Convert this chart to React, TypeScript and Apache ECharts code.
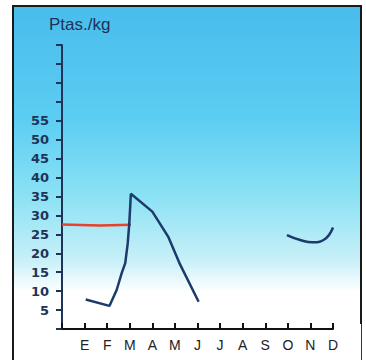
import React, { useEffect, useRef } from "react";
import * as echarts from "echarts";

const monthLabels = ["", "E", "F", "M", "A", "M", "J", "J", "A", "S", "O", "N", "D"];
const yLabeledMin = 5;
const yLabeledMax = 55;
const titleText = "Ptas./kg";

// [month index, Ptas./kg]
const redSeries: [number, number][] = [
  [0, 27.6],
  [1.7, 27.3],
  [3.05, 27.5],
];
const blueSpring: [number, number][] = [
  [1.05, 7.8],
  [2.1, 6.1],
  [2.42, 10.3],
  [2.64, 14.7],
  [2.8, 17.4],
  [2.91, 22.6],
  [2.98, 27.9],
  [3.05, 35.7],
  [4.0, 31.0],
  [4.7, 24.4],
  [5.2, 17.4],
  [6.05, 7.2],
];
const blueAutumn: [number, number][] = [
  [9.96, 24.8],
  [10.55, 23.5],
  [11.1, 22.9],
  [11.58, 23.5],
  [12.0, 26.8],
];

export default function App() {
  const ref = useRef<HTMLDivElement>(null);
  useEffect(() => {
    if (!ref.current) return;
    const chart = echarts.init(ref.current, undefined, { renderer: "svg" });
    const navy = "#1d3358";
    chart.setOption({
      animation: false,
      backgroundColor: "#ffffff",
      graphic: [
        {
          type: "rect",
          z: -10,
          silent: true,
          shape: { x: 13, y: 6, width: 348, height: 318 },
          style: {
            fill: new echarts.graphic.LinearGradient(0, 0, 0, 1, [
              { offset: 0, color: "#48bcec" },
              { offset: 0.35, color: "#5ccdf2" },
              { offset: 0.6, color: "#8ce2f4" },
              { offset: 0.8, color: "#c8f0f8" },
              { offset: 0.9, color: "#ffffff" },
              { offset: 1, color: "#ffffff" },
            ]),
          },
        },
        {
          type: "line",
          silent: true,
          shape: { x1: 12, y1: 6, x2: 362, y2: 6 },
          style: { stroke: "#1a1a1a", lineWidth: 2 },
        },
        {
          type: "line",
          silent: true,
          shape: { x1: 13, y1: 5, x2: 13, y2: 360 },
          style: { stroke: "#1a1a1a", lineWidth: 2 },
        },
        {
          type: "line",
          silent: true,
          shape: { x1: 361, y1: 5, x2: 361, y2: 324 },
          style: { stroke: "#1a1a1a", lineWidth: 2 },
        },
        {
          type: "line",
          silent: true,
          shape: { x1: 361.5, y1: 324, x2: 361.5, y2: 360 },
          style: { stroke: "#333", lineWidth: 1 },
        },
        {
          type: "text",
          left: 49,
          top: 16,
          style: {
            text: titleText,
            fill: navy,
            font: "17px 'Liberation Sans', sans-serif",
          },
        },
      ],
      grid: { left: 62, right: 33, top: 45, bottom: 31 },
      xAxis: {
        type: "value",
        min: 0,
        max: 12,
        interval: 1,
        axisLine: { show: true, lineStyle: { color: "#111", width: 2 } },
        axisTick: { show: true, inside: true, length: 6, lineStyle: { color: "#111", width: 2 } },
        splitLine: { show: false },
        axisLabel: {
          margin: 9,
          color: "#222",
          fontSize: 14,
          fontFamily: "'Liberation Sans', sans-serif",
          formatter: (v: number) => monthLabels[Math.round(v)] ?? "",
        },
      },
      yAxis: {
        type: "value",
        min: 0,
        max: 75,
        interval: 5,
        axisLine: { show: true, lineStyle: { color: navy, width: 2 } },
        axisTick: { show: true, length: 6, lineStyle: { color: navy, width: 2 } },
        splitLine: { show: false },
        axisLabel: {
          margin: 13,
          color: navy,
          fontSize: 13,
          fontWeight: "bold",
          fontFamily: "'DejaVu Sans', sans-serif",
          formatter: (v: number) => (v >= yLabeledMin && v <= yLabeledMax ? String(v) : ""),
        },
      },
      series: [
        {
          type: "line",
          data: redSeries,
          showSymbol: false,
          lineStyle: { color: "#e8412c", width: 2.5 },
        },
        {
          type: "line",
          data: blueSpring,
          showSymbol: false,
          lineStyle: { color: "#1c3a6b", width: 2.5 },
        },
        {
          type: "line",
          data: blueAutumn,
          showSymbol: false,
          smooth: true,
          lineStyle: { color: "#1c3a6b", width: 2.5 },
        },
      ],
    });
    return () => chart.dispose();
  }, []);
  return <div ref={ref} style={{ width: 366, height: 360, position: "absolute", left: 0, top: 0 }} />;
}
